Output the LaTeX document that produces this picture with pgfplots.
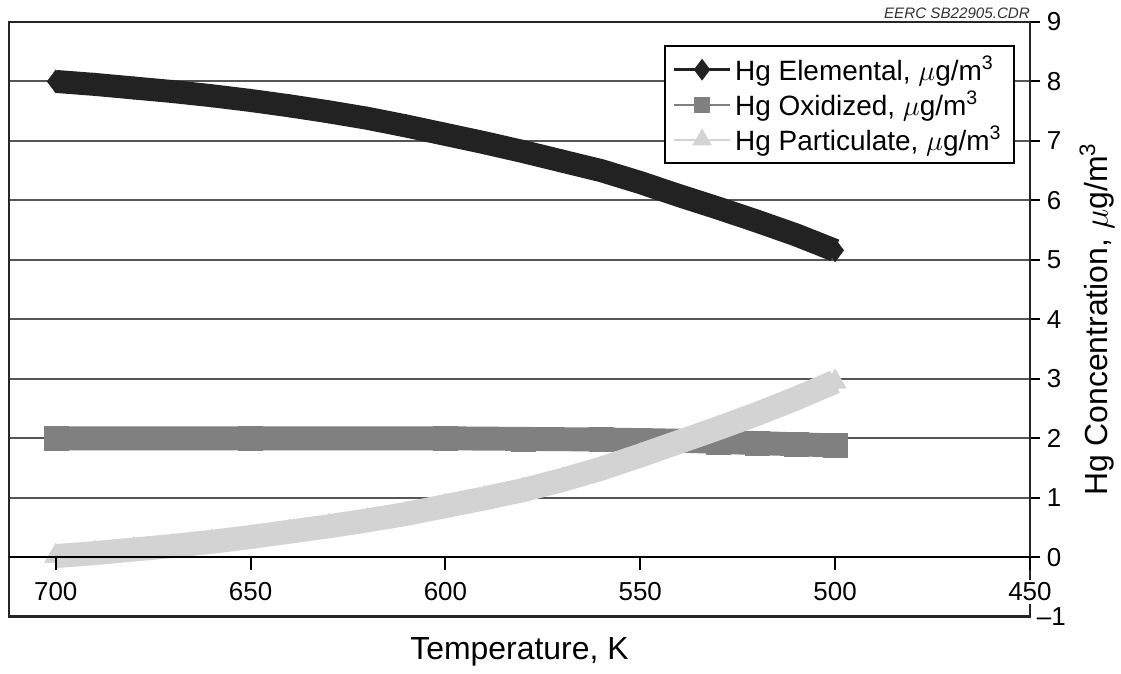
\documentclass[border=0pt]{standalone}
\usepackage{fontspec}
\setmainfont{Liberation Sans}
\usepackage{pgfplots}
\pgfplotsset{compat=1.18}

\definecolor{elem}{HTML}{222222}
\definecolor{oxid}{HTML}{808080}
\definecolor{part}{HTML}{D3D3D3}
\definecolor{gridc}{HTML}{555555}

\begin{document}
\begin{tikzpicture}
\pgfplotsset{every axis/.append style={
    width=511.5pt, height=298pt, scale only axis,
    xmin=450, xmax=712, x dir=reverse,
    ymin=-1, ymax=9,
    /pgf/number format/assume math mode=true,
    tick label style={font=\fontsize{13}{15}\selectfont},
}}

\begin{axis}[name=main,
    clip mode=individual,
    axis line style={line width=1.4pt, black!85},
    xtick=\empty,
    ytick={0,...,9}, ytick pos=right,
    tick align=outside, major tick length=5pt,
    ytick style={line width=1pt, black},
    extra y ticks={-1}, extra y tick labels={\textendash1},
    extra y tick style={major tick length=0pt, grid=none},
    ymajorgrids, grid style={gridc, line width=1pt},
    ylabel={Hg Concentration, $\mu$g/m\textsuperscript{3}},
    ylabel style={font=\fontsize{16}{19}\selectfont},
    ylabel shift=-5pt,
    xlabel={Temperature, K},
    xlabel style={font=\fontsize{16}{19}\selectfont, yshift=-2pt},
    legend style={at={(rel axis cs:0.985,0.961)}, anchor=north east,
        draw=black, line width=1pt, font=\fontsize{14}{16}\selectfont,
        inner xsep=4pt, inner ysep=3pt},
    legend cell align=left,
    legend image code/.code={\draw[mark repeat=2, mark phase=2, #1]
        plot coordinates {(0pt,0pt) (14pt,0pt) (28pt,0pt)};},
]
\addlegendimage{elem, line width=1.2pt, mark=diamond*, mark size=4.5pt}
\addlegendentry{Hg Elemental, $\mu$g/m\textsuperscript{3}}
\addlegendimage{oxid, line width=1.2pt, mark=square*, mark size=3.5pt}
\addlegendentry{Hg Oxidized, $\mu$g/m\textsuperscript{3}}
\addlegendimage{part, line width=1.2pt, mark=triangle*, mark size=4.5pt}
\addlegendentry{Hg Particulate, $\mu$g/m\textsuperscript{3}}

% elemental
\addplot[forget plot, elem, line width=11.5pt, mark=diamond*, mark size=5.75pt,
    mark options={line width=0.2pt, fill=elem}] coordinates {
    (700,8.00) (690,7.95) (680,7.89) (670,7.83) (660,7.76) (650,7.68)
    (640,7.59) (630,7.49) (620,7.38) (610,7.25) (600,7.11) (590,6.97)
    (580,6.82) (570,6.66) (560,6.50) (550,6.30) (540,6.08) (530,5.87)
    (520,5.65) (510,5.42) (500,5.16)
};
% oxidized
\addplot[forget plot, oxid, line width=12pt, mark=square*, mark size=6pt,
    mark options={line width=0.2pt, fill=oxid}] coordinates {
    (700,2.00) (650,2.00) (600,2.00) (580,1.99) (560,1.98) (550,1.97)
    (540,1.96) (530,1.94) (520,1.92) (510,1.90) (500,1.88)
};
% particulate
\addplot[forget plot, part, line width=12pt, mark=triangle*, mark size=6.5pt,
    mark options={line width=0.2pt, fill=part}] coordinates {
    (700,0.02) (690,0.07) (680,0.13) (670,0.19) (660,0.26) (650,0.34)
    (640,0.43) (630,0.52) (620,0.62) (610,0.73) (600,0.86) (590,0.99)
    (580,1.13) (570,1.30) (560,1.49) (550,1.71) (540,1.94) (530,2.17)
    (520,2.41) (510,2.67) (500,2.95)
};
\end{axis}

% x axis drawn along y = 0
\begin{axis}[
    axis y line=none, axis x line=middle,
    x axis line style={-, line width=1pt, black},
    xtick={450,500,...,700},
    tick align=outside, major tick length=6.5pt,
    xtick style={line width=1pt, black},
    xticklabel style={fill=white, inner sep=1.5pt},
    xticklabel shift=4.5pt,
]
\end{axis}

\node[anchor=south east, inner sep=0pt, outer sep=0pt, text=black!80,
    font=\fontsize{7.6}{9}\selectfont\itshape]
    at ([yshift=1.5pt]main.north east) {EERC SB22905.CDR};

\path ([xshift=-4.5pt,yshift=-23.5pt]main.south west)
    rectangle ([xshift=44.5pt,yshift=11pt]main.north east);
\end{tikzpicture}
\end{document}
